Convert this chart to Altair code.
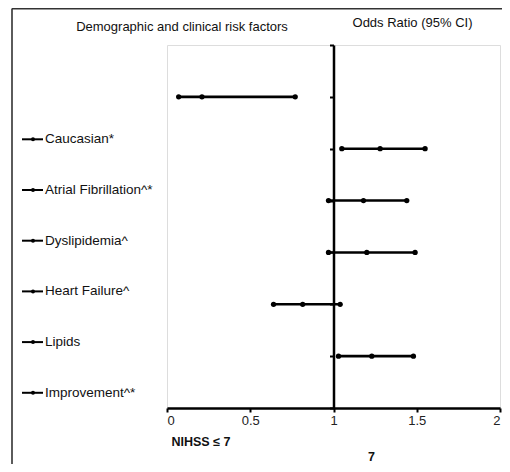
import altair as alt
import pandas as pd

# ---- data ----
rows = [1, 2, 3, 4, 5, 6]
lower = [0.07, 1.05, 0.97, 0.97, 0.64, 1.03]
estimate = [0.21, 1.28, 1.18, 1.20, 0.815, 1.23]
upper = [0.77, 1.55, 1.44, 1.49, 1.04, 1.48]

factors = ["Caucasian*", "Atrial Fibrillation^*", "Dyslipidemia^",
           "Heart Failure^", "Lipids", "Improvement^*"]
factor_rows = [1, 2, 3, 4, 5, 6]

x_ticks = [0, 0.5, 1, 1.5, 2]
y_ticks = [0, 1, 2, 3, 4, 5, 6, 7]

left_title = "Demographic and clinical risk factors"
right_title = "Odds Ratio (95% CI)"
x_title = "NIHSS \u2264 7"
x_sub = "7"

FONT = "Liberation Sans"

ci = pd.DataFrame({"row": rows, "lower": lower, "estimate": estimate, "upper": upper})
lab = pd.DataFrame({"factor": factors, "pos": factor_rows})

W, H = 333, 363

xscale = alt.Scale(domain=[0, 2], nice=False, zero=False)
yscale = alt.Scale(domain=[0, 7], reverse=True, nice=False, zero=False)

x_axis = alt.Axis(values=x_ticks, format="~g", grid=False, title=None,
                  domainColor="black", domainWidth=2.5, tickColor="black",
                  tickWidth=2, tickSize=4, labelFont=FONT, labelFontSize=13,
                  labelColor="#222", labelPadding=2)
y_axis = alt.Axis(values=y_ticks, grid=False, title=None, labels=False,
                  domainColor="black", domainWidth=2.5, tickColor="black",
                  tickWidth=2, tickSize=4, offset=-W / 2)

base = alt.Chart(ci)

ci_lines = base.mark_rule(color="black", strokeWidth=2.6).encode(
    x=alt.X("lower:Q", scale=xscale, axis=x_axis),
    x2="upper:Q",
    y=alt.Y("row:Q", scale=yscale, axis=y_axis),
)

ci_points = base.transform_fold(["lower", "estimate", "upper"], as_=["k", "v"]).mark_circle(
    color="black", opacity=1, size=28
).encode(
    x=alt.X("v:Q", scale=xscale),
    y=alt.Y("row:Q", scale=yscale),
)

main = alt.layer(ci_lines, ci_points)

lab_scale = alt.Scale(domain=[-0.86, 6.30], reverse=True, nice=False, zero=False)
lab_base = alt.Chart(lab)
lab_rule = lab_base.mark_rule(color="black", strokeWidth=2).encode(
    x=alt.value(-145), x2=alt.value(-124),
    y=alt.Y("pos:Q", scale=lab_scale, axis=None),
)
lab_dot = lab_base.mark_circle(color="black", opacity=1, size=16).encode(
    x=alt.value(-134),
    y=alt.Y("pos:Q", scale=lab_scale, axis=None),
)
lab_text = lab_base.mark_text(align="left", baseline="middle", font=FONT,
                              fontSize=13.5, color="#111").encode(
    x=alt.value(-122),
    y=alt.Y("pos:Q", scale=lab_scale, axis=None),
    text="factor:N",
)
labels = alt.layer(lab_rule, lab_dot, lab_text)

def note(txt, x, y, align="center", size=13, weight="normal"):
    return alt.Chart(pd.DataFrame({"t": [txt]})).mark_text(
        align=align, baseline="middle", font=FONT, fontSize=size,
        fontWeight=weight, color="#111"
    ).encode(x=alt.value(x), y=alt.value(y), text="t:N")

titles = alt.layer(
    note(left_title, 15, -18.5),
    note(right_title, 245.5, -22.5),
    note(x_title, 4.5, 397, align="left", size=12.5, weight="bold"),
    note(x_sub, 204.5, 411.5, size=12.5, weight="bold"),
)

frame = alt.layer(
    alt.Chart(pd.DataFrame({"a": [0]})).mark_rule(color="#333", strokeWidth=1.6).encode(
        x=alt.value(-155), y=alt.value(-36.5), y2=alt.value(H + 60)),
    alt.Chart(pd.DataFrame({"a": [0]})).mark_rule(color="#333", strokeWidth=1.6).encode(
        x=alt.value(-155), x2=alt.value(W + 20), y=alt.value(-36.2)),
)

chart = alt.layer(main, labels, titles, frame).resolve_scale(y="independent").properties(
    width=W, height=H,
    autosize=alt.AutoSizeParams(type="none"),
    padding={"left": 159, "top": 37, "right": 2, "bottom": 56},
).configure_view(stroke=None).configure(background="white")

chart.save("out.html", embed_options={"renderer": "svg", "actions": False})
